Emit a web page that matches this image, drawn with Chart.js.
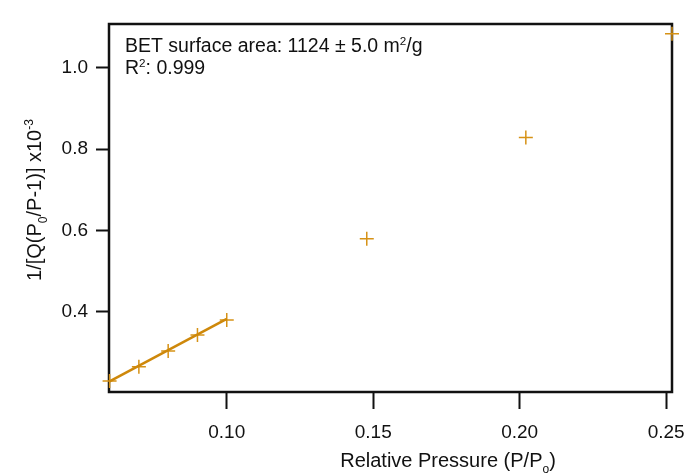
<!DOCTYPE html>
<html>
<head>
<meta charset="utf-8">
<script src="https://cdn.jsdelivr.net/npm/chart.js@4/dist/chart.umd.min.js"></script>
<style>
  html, body { margin: 0; padding: 0; background: #fff; }
  #wrap { width: 685px; height: 474px; }
</style>
</head>
<body>
<div id="wrap"><canvas id="betChart" width="685" height="474"></canvas></div>
<script>
// BET plot data
const relPressure = [0.060, 0.070, 0.080, 0.090, 0.100, 0.1478, 0.2021, 0.252];
const invQ = [0.230, 0.265, 0.304, 0.343, 0.380, 0.580, 0.829, 1.084];
const fitX = [0.060, 0.100];
const fitY = [0.229, 0.383];
const xTicks = [0.10, 0.15, 0.20, 0.25];
const yTicks = [0.4, 0.6, 0.8, 1.0];

const orange = 'rgb(214, 146, 22)';
const FONT = '"Liberation Sans", Arial, sans-serif';

// draw text made of normal / sub / sup pieces
function richText(ctx, parts, x, y, size, align) {
    let total = 0;
    parts.forEach(p => {
        ctx.font = (p[1] ? size * 0.6 : size) + 'px ' + FONT;
        total += ctx.measureText(p[0]).width;
    });
    let cx = align === 'center' ? x - total / 2 : x;
    parts.forEach(p => {
        const s = p[1] ? size * 0.6 : size;
        ctx.font = s + 'px ' + FONT;
        let dy = 0;
        if (p[1] === 'sub') dy = size * 0.3;
        if (p[1] === 'sup') dy = -size * 0.38;
        ctx.fillText(p[0], cx, y + dy);
        cx += ctx.measureText(p[0]).width;
    });
}

const framePlugin = {
    id: 'frame',
    beforeDatasetsDraw(chart) {
        const {ctx, chartArea: a} = chart;
        ctx.save();
        ctx.strokeStyle = '#111';
        ctx.lineWidth = 2.5;
        ctx.strokeRect(a.left, a.top, a.right - a.left, a.bottom - a.top);
        ctx.restore();
    },
    afterDraw(chart) {
        const {ctx, chartArea: a} = chart;
        ctx.save();
        ctx.fillStyle = '#111';
        ctx.textBaseline = 'alphabetic';
        // annotation
        richText(ctx, [['BET surface area: 1124 \u00b1 5.0 m'], ['2', 'sup'], ['/g']], a.left + 16, 52, 19.5, 'left');
        richText(ctx, [['R'], ['2', 'sup'], [': 0.999']], a.left + 16, 74, 19.5, 'left');
        // x title
        richText(ctx, [['Relative Pressure (P/P'], ['o', 'sub'], [')']], 448, 467, 20, 'center');
        // y title
        ctx.translate(41, 200);
        ctx.rotate(-Math.PI / 2);
        richText(ctx, [['1/[Q(P'], ['0', 'sub'], ['/P-1)] x10'], ['-3', 'sup']], 0, 0, 20, 'center');
        ctx.restore();
    }
};

new Chart(document.getElementById('betChart'), {
    type: 'scatter',
    data: {
        datasets: [
            {
                label: 'fit',
                type: 'line',
                data: fitX.map((x, i) => ({x: x, y: fitY[i]})),
                borderColor: 'rgb(206, 136, 10)',
                borderWidth: 2.5,
                pointRadius: 0,
                fill: false,
                clip: false
            },
            {
                label: 'BET',
                data: relPressure.map((x, i) => ({x: x, y: invQ[i]})),
                pointStyle: 'cross',
                pointRadius: 7,
                borderColor: orange,
                borderWidth: 1.5,
                clip: false
            }
        ]
    },
    options: {
        responsive: false,
        animation: false,
        layout: { padding: { top: 24, right: 13, left: 0, bottom: 0 } },
        plugins: {
            legend: { display: false },
            tooltip: { enabled: false }
        },
        scales: {
            x: {
                type: 'linear',
                min: 0.0598,
                max: 0.252,
                afterBuildTicks: s => { s.ticks = xTicks.map(v => ({value: v})); },
                afterFit: s => { s.height = 82; s.paddingLeft = 0; s.paddingRight = 0; },
                grid: { drawOnChartArea: false, tickLength: 17, tickColor: '#111', tickWidth: 2 },
                border: { display: false },
                ticks: {
                    color: '#111',
                    font: { family: FONT, size: 19 },
                    padding: 12,
                    maxRotation: 0,
                    callback: v => v.toFixed(2)
                }
            },
            y: {
                type: 'linear',
                min: 0.203,
                max: 1.108,
                afterBuildTicks: s => { s.ticks = yTicks.map(v => ({value: v})); },
                afterFit: s => { s.width = 109; s.paddingTop = 0; s.paddingBottom = 0; },
                grid: { drawOnChartArea: false, tickLength: 13, tickColor: '#111', tickWidth: 2 },
                border: { display: false },
                ticks: {
                    color: '#111',
                    font: { family: FONT, size: 19 },
                    padding: 8,
                    callback: v => v.toFixed(1)
                }
            }
        }
    },
    plugins: [framePlugin]
});
</script>
</body>
</html>
